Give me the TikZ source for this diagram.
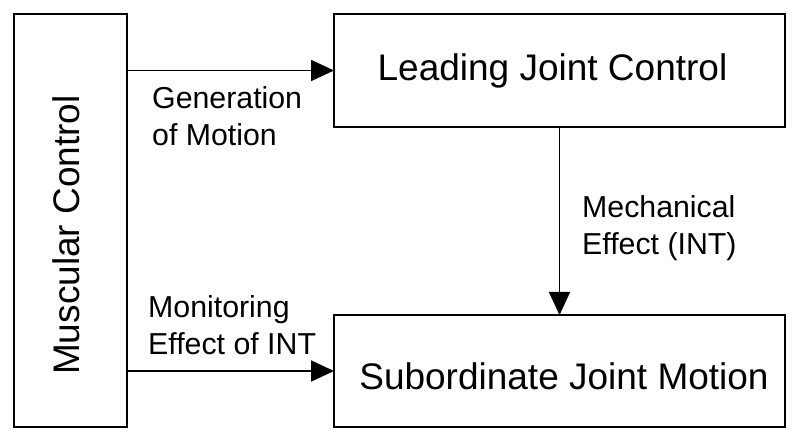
\documentclass[tikz,border=0pt]{standalone}
\usepackage{fontspec}
\setmainfont{Liberation Sans}
\usetikzlibrary{arrows.meta}
\tikzset{
  box/.style={draw, line width=2pt, inner sep=0pt, outer sep=0pt},
  bigtext/.style={font=\fontsize{37}{44}\selectfont, inner sep=0pt},
  smalltext/.style={font=\fontsize{30.3}{37.5}\selectfont, inner sep=0pt, align=left},
  conn/.style={line width=1.8pt, -{Triangle[length=23pt,width=21pt]}}
}
\begin{document}
\begin{tikzpicture}[x=1pt,y=-1pt]
\useasboundingbox (0,0) rectangle (800,443);
\node[box, minimum width=113pt, minimum height=413pt,
  label={[bigtext, xshift=-4.5pt, yshift=-14.5pt, rotate=90]center:Muscular Control}]
  (mc) at (70.5,220.5) {};
\node[box, minimum width=451pt, minimum height=113pt,
  label={[bigtext, xshift=-7pt, yshift=0pt]center:Leading Joint Control}]
  (ljc) at (559.5,70.5) {};
\node[box, minimum width=451pt, minimum height=112pt,
  label={[bigtext, xshift=4.5pt, yshift=-5.5pt]center:Subordinate Joint Motion}]
  (sjm) at (559.5,371) {};
\draw[conn] (mc.east |- ljc.west) -- (ljc.west);
\draw[conn] (mc.east |- sjm.west) -- (sjm.west);
\draw[conn] (ljc.south) -- (sjm.north);
\node[smalltext, anchor=north west] (gen) at (152,86) {Generation\\of Motion};
\node[smalltext, anchor=north west] (mon) at (148,295) {Monitoring\\Effect of INT};
\node[smalltext, anchor=north west] (mech) at (582,195) {Mechanical\\Effect (INT)};
\end{tikzpicture}
\end{document}
